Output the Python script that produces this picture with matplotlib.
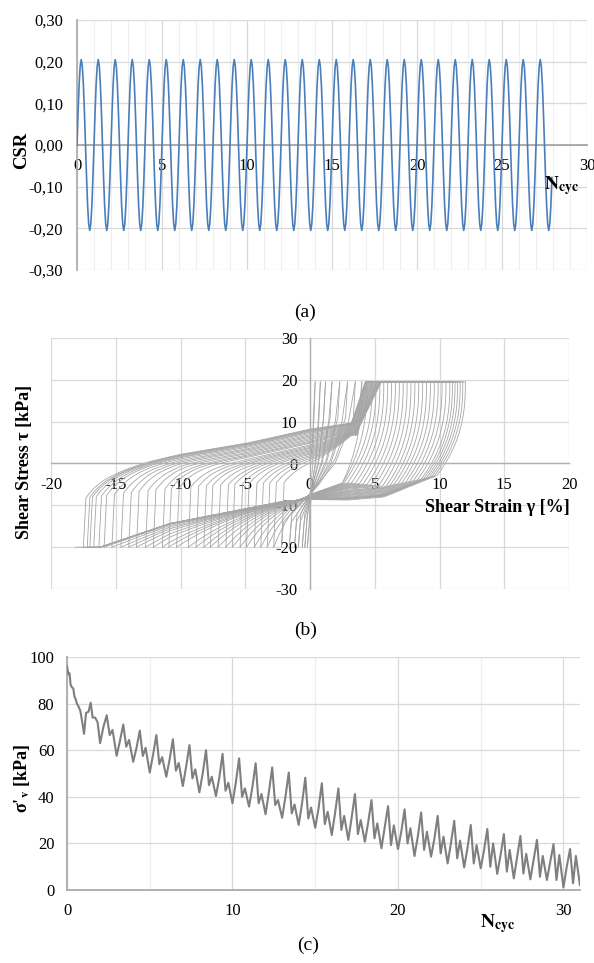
import numpy as np
import matplotlib.pyplot as plt
from matplotlib.ticker import MultipleLocator, FuncFormatter

plt.rcParams['font.family'] = ['Liberation Serif', 'DejaVu Serif']
plt.rcParams['mathtext.fontset'] = 'stix'

# ---------------- (a) CSR vs N_cyc ----------------
# one loading cycle (16 samples), repeated for every cycle
csr_cycle = [0.0, 0.078, 0.145, 0.189, 0.205, 0.189, 0.145, 0.078,
             0.0, -0.078, -0.145, -0.189, -0.205, -0.189, -0.145, -0.078]
csr_n_cycles = 28
csr_n_end = 27.95

# ---------------- (b) shear stress vs shear strain ----------------
# strain at each negative (-tau) and positive (+tau) stress tip, per cycle
strain_neg_tips = [0.0, -0.2, -0.4, -0.6, -0.9, -1.2, -1.6, -2.2, -2.8, -3.3,
                   -3.8, -4.3, -4.9, -5.4, -6.0, -6.5, -7.1, -7.7, -8.2, -8.8,
                   -9.4, -10.3, -10.9, -11.4, -12.1, -12.7, -13.4, -14.0, -14.6,
                   -15.3, -15.9, -16.3, -16.7, -17.0, -17.2, -17.5, -18.1]
strain_pos_tips = [0.4, 0.8, 1.2, 1.7, 2.3, 2.9, 3.5, 4.0, 4.4, 4.8, 5.1, 5.4,
                   5.7, 6.0, 6.3, 6.6, 6.9, 7.2, 7.5, 7.8, 8.1, 8.4, 8.7, 9.0,
                   9.3, 9.6, 9.9, 10.2, 10.5, 10.8, 11.0, 11.2, 11.4, 11.6, 11.8, 12.0]
tau_amp = 19.5
# upper and lower branch envelopes
upper_g = [-19.0, -15.3, -12.3, -10.0, -4.8, 0.0, 3.2]
upper_t = [-4.0, -1.6, 0.9, 2.5, 5.2, 8.5, 9.8]
lower_g = [-16.2, -10.8, -2.2, 0.0, 2.0, 5.7, 10.1]
lower_t = [-20.0, -14.3, -9.1, -8.0, -7.5, -6.5, -1.0]

# ---------------- (c) sigma'v vs N_cyc ----------------
sv_first_n = [0, 0.05, 0.1, 0.15, 0.22, 0.3, 0.38, 0.45, 0.52, 0.6, 0.68, 0.8,
              0.9, 1.03, 1.15, 1.3, 1.43, 1.55, 1.7, 1.85, 2.0]
sv_first = [96, 94, 92.5, 93, 88, 87, 86.5, 83, 82, 80, 79, 77,
            73, 67, 76, 76.5, 80.4, 74, 74, 72, 63]
# cycles 2..30: value at N = j + phase
sv_phase = [0.2, 0.4, 0.58, 0.75, 1.0]
sv_rise = [70, 64, 61, 58, 56, 53, 50, 48, 46, 44, 42, 40, 37, 35, 33, 31, 29,
           27, 25, 23, 22, 20, 18, 17, 15, 14, 13, 12, 10]
sv_peak = [75, 71, 68.4, 66.5, 64.7, 62.2, 60, 58.4, 56.5, 54.4, 52.6, 50.4, 48.2,
           45.8, 43.6, 41.2, 38.6, 36, 34.6, 33.3, 31.8, 29.7, 27.9, 26.2, 24,
           23.2, 21.5, 19.7, 17.6]
sv_dip = [66.5, 61.5, 57.5, 54, 51.2, 47.9, 45, 42.6, 40, 37.2, 36.5, 32.9, 30.7,
          28.3, 25.8, 24, 22.2, 19.3, 20, 17.2, 15.7, 13.6, 11.4, 10, 7.9, 7.1,
          5.7, 4.3, 2.9]
sv_bump = [68.7, 64.4, 61, 57, 54.5, 51.8, 48.6, 46, 43.6, 41.2, 38.6, 36.7, 35.4,
           33.6, 31.8, 30, 28.6, 27.7, 26.5, 25, 22.9, 21.2, 19.3, 20, 17.2, 15.5,
           14.6, 15, 14.6]
sv_trough = [57.6, 55, 50.4, 48.6, 44.6, 41.9, 40.3, 37.2, 35.8, 32.5, 31, 27.9,
             26.7, 23.6, 21.5, 20.7, 17.9, 17.6, 14.6, 14.3, 11.4, 9.7, 9.3, 6.9,
             5, 4.6, 4.3, 1.1, 2.1]

W, H = 594, 963
fig = plt.figure(figsize=(W / 100, H / 100), dpi=100)


def fx(px):
    return px / W


def fy(py):
    return 1 - py / H


def px_axes(l, t, r, b):
    return fig.add_axes([fx(l), fy(b), (r - l) / W, (b - t) / H])


GRID = '#d9d9d9'
AXC = '#b0b0b0'
TICK_FS = 12

# ---------- (a) ----------
ax = px_axes(77, 20, 587, 270)
csr = np.tile(csr_cycle, csr_n_cycles + 1)
n_a = np.arange(len(csr)) / len(csr_cycle)
keep = n_a <= csr_n_end
ax.plot(n_a[keep], csr[keep], color='#4a7ebb', lw=1.2, zorder=3)
ax.set_xlim(0, 30)
ax.set_ylim(-0.3, 0.3)
ax.xaxis.set_major_locator(MultipleLocator(5))
ax.xaxis.set_minor_locator(MultipleLocator(1))
ax.yaxis.set_major_locator(MultipleLocator(0.1))
ax.yaxis.set_major_formatter(FuncFormatter(lambda v, _: f"{v:.2f}".replace('.', ',')))
ax.grid(which='major', color=GRID, lw=0.9)
ax.grid(which='minor', axis='x', color='#efefef', lw=0.8)
ax.set_axisbelow(True)
for s in ['top', 'right']:
    ax.spines[s].set_visible(False)
ax.spines['bottom'].set_position(('data', 0))
ax.spines['bottom'].set_color('#a6a6a6')
ax.spines['bottom'].set_linewidth(1.3)
ax.spines['left'].set_color(AXC)
ax.spines['left'].set_linewidth(1.3)
ax.tick_params(which='both', length=0, labelsize=TICK_FS)
ax.tick_params(axis='x', pad=9)
ax.tick_params(axis='y', pad=10)
fig.text(fx(22), fy(150), 'CSR', rotation=90, ha='center', va='center',
         fontsize=13.5, fontweight='bold')
fig.text(fx(562), fy(186), r'$\mathbf{N}_{\mathbf{cyc}}$', ha='center', va='center',
         fontsize=14)
fig.text(fx(305), fy(312), '(a)', ha='center', va='center', fontsize=14)

# ---------- (b) ----------
ax = px_axes(51, 338, 569, 589)
LOOP = '#a6a6a6'
LW = 0.6

n_loops = len(strain_pos_tips)
for k in range(n_loops):
    gn, gp, gn2 = strain_neg_tips[k], strain_pos_tips[k], strain_neg_tips[k + 1]
    if gp < 4.0:
        # small, stiff loops before liquefaction
        if k == 0:
            xu, yu = [0, 0.3 * gp, 0.75 * gp, gp], [0, 3, 10, tau_amp]
        else:
            xu = [gn, gn + 0.2, 0.2 * gp, 0.55 * gp, 0.85 * gp, gp]
            yu = [-20, -12, -5, 1, 10, tau_amp]
        xd = [gp, gp - 0.15, 0.55 * gp, 0.2 * gp + 0.3 * gn2, gn2 + 0.15, gn2]
        yd = [tau_amp, 11, 0, -7, -14, -20]
        ax.plot(xu, yu, color=LOOP, lw=LW)
        ax.plot(xd, yd, color=LOOP, lw=LW)
        continue

    # branch from -tau: stiff rise, liquefied upper band, stiffening to +tau
    frac = abs(gn) / 18.1
    d = 8.5 * (1 - frac)
    ta = -4.5 - 4 * frac ** 2
    g_end = 3.2 + 0.5 * d / 8.5
    g = np.linspace(gn + 0.2, g_end, 140)
    conv = np.where(g > 0, 1 - 0.6 * np.clip(g / 3.2, 0, 1) ** 1.5, 1.0)
    band = np.interp(g, upper_g, upper_t) - d * conv
    t = band - (band[0] - ta) * np.exp(-(g - g[0]) / 1.3)
    gtop = min(4.2 + 1.8 * d / 8.5, gp)
    xu = np.r_[gn, g, gtop, gp]
    yu = np.r_[-20, t, tau_amp, tau_amp]
    ax.plot(xu, yu, color=LOOP, lw=LW)

    # branch from +tau: steep curve down to the lower band, along it to -tau
    frac2 = abs(gn2) / 18.1
    e = 4.0 - 5.5 * frac2

    def low(gg):
        fade = np.clip((gg + 2.0) / 5.0, 0, 1)
        return np.interp(gg, lower_g, lower_t) + e * fade - 1.2 * (1 - frac2) * (1 - fade)

    xs = max(gp - 2.2, 2.5)
    u = np.linspace(0, 1, 50)
    ys = low(xs)
    cx = gp - (gp - xs) * u ** 2.5
    cy = tau_amp - (tau_amp - ys) * u
    g2 = np.linspace(xs, gn2, 160)
    base = low(g2)
    s = np.clip((1.0 - g2) / (1.0 - gn2), 0, 1) ** 3
    t2 = np.maximum(base + (-20 - base[-1]) * s, -20)
    ax.plot(np.r_[cx, g2], np.r_[cy, t2], color=LOOP, lw=LW)

ax.set_xlim(-20, 20)
ax.set_ylim(-30, 30)
ax.xaxis.set_major_locator(MultipleLocator(5))
ax.yaxis.set_major_locator(MultipleLocator(10))
ax.xaxis.set_major_formatter(FuncFormatter(lambda v, _: f"{v:.0f}"))
ax.yaxis.set_major_formatter(FuncFormatter(lambda v, _: f"{v:.0f}"))
ax.grid(color=GRID, lw=0.9)
ax.set_axisbelow(True)
for s in ['top', 'right']:
    ax.spines[s].set_visible(False)
for s in ['left', 'bottom']:
    ax.spines[s].set_position(('data', 0))
    ax.spines[s].set_color(AXC)
    ax.spines[s].set_linewidth(1.0)
ax.tick_params(length=0, labelsize=TICK_FS)
ax.tick_params(axis='x', pad=10)
ax.tick_params(axis='y', pad=9)
fig.text(fx(25), fy(462), 'Shear Stress τ [kPa]', rotation=90, ha='center',
         va='center', fontsize=13, fontweight='bold')
fig.text(fx(497), fy(507), 'Shear Strain γ [%]', ha='center', va='center',
         fontsize=13, fontweight='bold')
fig.text(fx(306), fy(630), '(b)', ha='center', va='center', fontsize=14)

# ---------- (c) ----------
ax = px_axes(67, 657, 580, 890)
n_c = list(sv_first_n)
v_c = list(sv_first)
for i, j in enumerate(range(2, 2 + len(sv_peak))):
    n_c += [j + p for p in sv_phase]
    v_c += [sv_rise[i], sv_peak[i], sv_dip[i], sv_bump[i], sv_trough[i]]
ax.plot(n_c, v_c, color='#7f7f7f', lw=1.5, zorder=3)
ax.set_xlim(0, 31)
ax.set_ylim(0, 100)
ax.xaxis.set_major_locator(MultipleLocator(10))
ax.xaxis.set_minor_locator(MultipleLocator(5))
ax.yaxis.set_major_locator(MultipleLocator(20))
ax.grid(which='major', color=GRID, lw=0.9)
ax.grid(which='minor', axis='x', color='#eeeeee', lw=0.9)
ax.set_axisbelow(True)
for s in ['top', 'right']:
    ax.spines[s].set_visible(False)
for s in ['left', 'bottom']:
    ax.spines[s].set_color(AXC)
    ax.spines[s].set_linewidth(1.4)
ax.tick_params(which='both', length=0, labelsize=TICK_FS)
ax.tick_params(axis='x', pad=9)
ax.tick_params(axis='y', pad=9)
fig.text(fx(22), fy(778), r"σ'$_{\mathbf{v}}$ [kPa]", rotation=90, ha='center',
         va='center', fontsize=13, fontweight='bold')
fig.text(fx(498), fy(924), r'$\mathbf{N}_{\mathbf{cyc}}$', ha='center', va='center',
         fontsize=14)
fig.text(fx(308), fy(945), '(c)', ha='center', va='center', fontsize=14)

fig.savefig('out.png', dpi=100)
